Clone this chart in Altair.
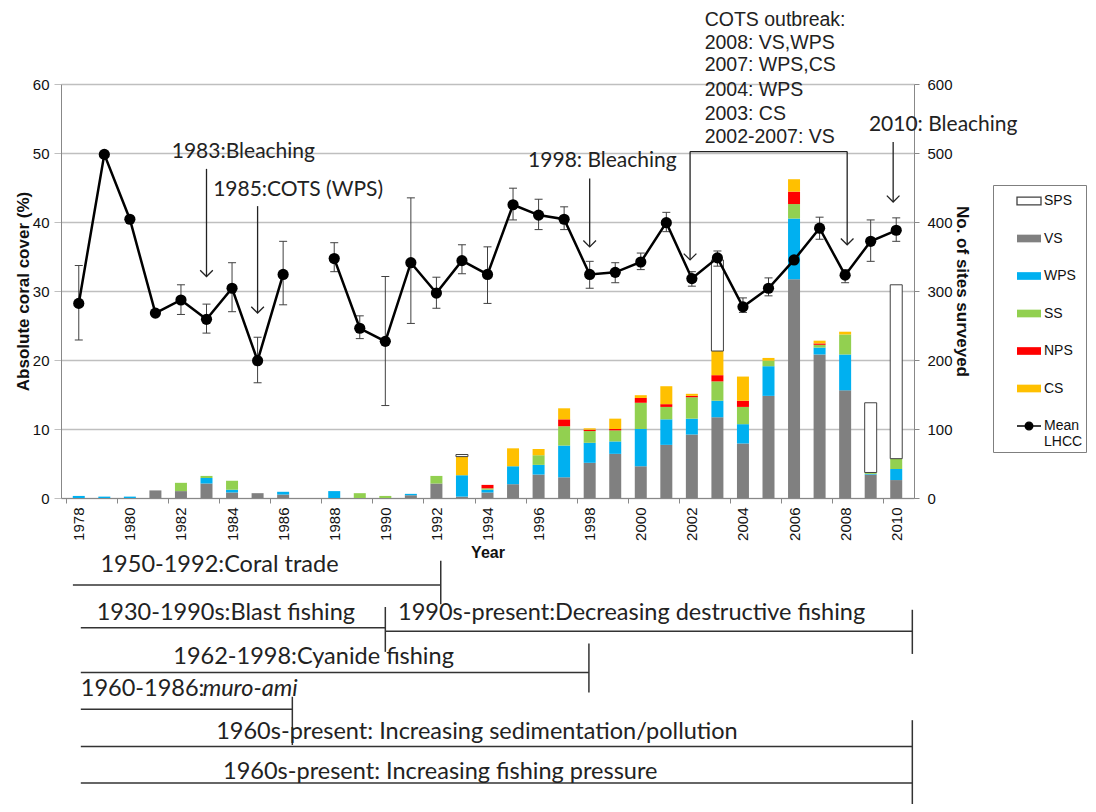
import altair as alt
import pandas as pd

# ---------------- data ----------------
years = list(range(1978, 2011))

# number of sites surveyed per region (stacked bars, right axis)
vs  = [0,0,0,11,10,21,8,7,5,0, 0,0,0,4,21, 2,8,20,34,30, 51,64,46,77,92, 117,79,148,317,208, 156,34,26]
wps = [3,2,2,0,0,8,4,0,4,0, 10,0,0,2,0, 31,4,26,14,46, 29,18,54,37,23, 24,28,43,88,10, 52,1,16]
ss  = [0,0,0,0,12,3,13,0,0,0, 0,7,3,0,11, 0,2,0,14,28, 17,16,38,18,31, 28,25,8,21,4, 29,2,15]
nps = [0,0,0,0,0,0,0,0,0,0, 0,0,0,0,0, 0,5,0,0,10, 2,2,7,4,2, 9,9,0,18,2, 0,0,0]
cs  = [0,0,0,0,0,0,0,0,0,0, 0,0,0,0,0, 27,0,26,9,16, 2,15,4,26,3, 35,35,4,18,4, 4,0,0]
sps = [0,0,0,0,0,0,0,0,0,0, 0,0,0,0,0, 3,0,0,0,0, 0,0,0,0,0, 132,0,0,0,0, 0,101,252]

# mean live hard coral cover (left axis) with error bars
lhcc   = [28.2,49.8,40.4,26.8,28.7,25.9,30.4,19.9,32.4,None, 34.7,24.6,22.7,34.1,29.7,
          34.4,32.4,42.5,41.0,40.4, 32.4,32.7,34.2,39.9,31.8, 34.8,27.7,30.4,34.5,39.1, 32.3,37.2,38.8]
err_lo = [22.9,None,None,None,26.6,23.9,27.0,16.7,28.0,None, 32.8,23.1,13.4,25.3,27.5,
          32.5,28.2,40.3,38.9,38.9, 30.4,31.2,33.1,38.6,30.7, 33.6,26.9,29.3,None,37.5, 31.2,34.3,37.2]
err_hi = [33.7,None,None,None,30.9,28.1,34.1,23.3,37.2,None, 37.0,26.4,32.1,43.5,32.0,
          36.7,36.4,44.9,43.3,42.2, 34.3,34.1,35.5,41.4,32.8, 35.8,29.0,31.9,None,40.7, 33.1,40.3,40.6]

legend_names = ["SPS", "VS", "WPS", "SS", "NPS", "CS", "Mean LHCC"]
legend_fill  = ["#ffffff", "#808080", "#00b0f0", "#92d050", "#ff0000", "#ffc000", "#000000"]
legend_stroke = ["#404040", "transparent", "transparent", "transparent", "transparent", "transparent", "#000000"]
rect_path = "M-1,-0.32L1,-0.32L1,0.32L-1,0.32Z"
linedot_path = "M-1,0L1,0M0.32,0A0.32,0.32,0,1,1,-0.32,0A0.32,0.32,0,1,1,0.32,0Z"
legend_shapes = [rect_path] * 6 + [linedot_path]

# event annotations (year, coral cover units)
ann_text = ["1983:Bleaching", "1985:COTS (WPS)", "1998: Bleaching", "2010: Bleaching"]
ann_x    = [1981.64, 1983.26, 1995.59, 2008.93]
ann_y    = [50.2, 44.6, 48.8, 54.1]

cots_text = ["COTS outbreak:", "2008: VS,WPS", "2007: WPS,CS", "2004: WPS", "2003: CS", "2002-2007: VS"]
cots_x    = [2002.5] * 6
cots_y    = [69.3, 65.9, 62.7, 59.2, 55.7, 52.3]

arr_x   = [1983, 1985, 1998, 2001.93, 2008.08, 2009.88]
arr_top = [47.7, 42.3, 46.3, 50.2, 50.2, 51.6]
arr_tip = [32.1, 26.8, 36.4, 34.5, 36.7, 42.9]

brk_x1, brk_x2, brk_y = [2001.93], [2008.08], [50.2]

# timeline of threats (below the chart)
tl_text  = ["1950-1992:Coral trade", "1930-1990s:Blast fishing",
            "1990s-present:Decreasing destructive fishing", "1962-1998:Cyanide fishing",
            "1960-1986:", "1960s-present: Increasing sedimentation/pollution",
            "1960s-present: Increasing fishing pressure"]
tl_x     = [1978.85, 1978.7, 1990.5, 1981.7, 1978.08, 1983.38, 1983.65]
tl_y     = [-9.7, -16.6, -16.6, -23.0, -27.7, -33.9, -39.7]
tl_it_text, tl_it_x, tl_it_y = ["muro-ami"], [1982.85], [-27.7]

tl_h_x1 = [1977.77, 1978.08, 1990.0, 1978.08, 1978.08, 1978.08, 1978.08]
tl_h_x2 = [1992.17, 1990.0, 2010.63, 1997.97, 1986.36, 2010.63, 2010.63]
tl_h_y  = [-12.6, -18.8, -19.3, -25.3, -30.6, -36.0, -41.3]

tl_v_x  = [1992.17, 1990.0, 2010.63, 1997.97, 1986.36, 2010.63]
tl_v_y1 = [-9.1, -15.8, -16.2, -21.1, -28.8, -32.2]
tl_v_y2 = [-15.4, -22.3, -22.6, -28.2, -35.8, -45.5]

# ---------------- tables ----------------
stack_order = ["VS", "WPS", "SS", "NPS", "CS", "SPS"]
series = {"VS": vs, "WPS": wps, "SS": ss, "NPS": nps, "CS": cs, "SPS": sps}
rows = []
for k, cat in enumerate(stack_order):
    for y, val in zip(years, series[cat]):
        if val > 0:
            rows.append({"year": y, "cat": cat, "sites": val, "ord": k})
bars_df = pd.DataFrame(rows)

line_df = pd.DataFrame({"year": years, "v": lhcc})
line_df = line_df.dropna()
line_df["seg"] = ["a" if y < 1987 else "b" for y in line_df["year"]]
line_df["cat"] = "Mean LHCC"

err_df = pd.DataFrame({"year": years, "lo": err_lo, "hi": err_hi}).dropna()
caps_df = pd.concat([err_df[["year", "lo"]].rename(columns={"lo": "v"}),
                     err_df[["year", "hi"]].rename(columns={"hi": "v"})])

ann_df = pd.DataFrame({"x": ann_x, "y": ann_y, "t": ann_text})
cots_df = pd.DataFrame({"x": cots_x, "y": cots_y, "t": cots_text})
arr_df = pd.DataFrame({"x": arr_x, "top": arr_top, "tip": arr_tip})
brk_df = pd.DataFrame({"x1": brk_x1, "x2": brk_x2, "y": brk_y})
tl_df = pd.DataFrame({"x": tl_x, "y": tl_y, "t": tl_text})
tl_it_df = pd.DataFrame({"x": tl_it_x, "y": tl_it_y, "t": tl_it_text})
tl_h_df = pd.DataFrame({"x1": tl_h_x1, "x2": tl_h_x2, "y": tl_h_y})
tl_v_df = pd.DataFrame({"x": tl_v_x, "y1": tl_v_y1, "y2": tl_v_y2})

# ---------------- scales / axes ----------------
W, H = 853, 414
half_band = W / 33 / 2
xscale = alt.Scale(domain=[1977.5, 2010.5], nice=False, zero=False)
xaxis = alt.Axis(values=list(range(1978, 2011, 2)), format="d", labelAngle=-90,
                 tickOffset=-half_band, labelOffset=half_band, tickSize=5,
                 tickColor="#888888", domainColor="#888888", grid=False,
                 labelFont="Liberation Sans", labelFontSize=15, labelColor="#111111",
                 labelPadding=4, labelOverlap=False, titleFont="Liberation Sans",
                 titleFontSize=16, titleFontWeight="bold", titleColor="#111111", titlePadding=4)

yl_scale = alt.Scale(domain=[0, 60], nice=False, zero=False)
yl_axis = alt.Axis(orient="left", values=list(range(0, 61, 10)), grid=True,
                   gridColor="#bfbfbf", gridWidth=1.3, domainColor="#888888",
                   tickColor="#bfbfbf", tickSize=7, labelFont="Liberation Sans",
                   labelFontSize=15, labelColor="#111111", labelPadding=5,
                   titleFont="Liberation Sans", titleFontSize=17, titleFontWeight="bold",
                   titleColor="#111111", titlePadding=0)

yr_axis = alt.Axis(orient="right", values=list(range(0, 601, 100)), grid=False,
                   domainColor="#888888", tickColor="#888888", tickSize=5,
                   labelFont="Liberation Sans", labelFontSize=15, labelColor="#111111",
                   labelPadding=8, titleFont="Liberation Sans", titleFontSize=17,
                   titleFontWeight="bold", titleColor="#111111", titlePadding=0)


def X(field="year"):
    return alt.X(f"{field}:Q", scale=xscale, axis=xaxis, title="Year")


def YL(field):
    return alt.Y(f"{field}:Q", scale=yl_scale, axis=yl_axis, title="Absolute coral cover (%)")


leg = alt.Legend(title=None, orient="none", legendX=932, legendY=101, direction="vertical",
                 strokeColor="#7f7f7f", fillColor="white", padding=3, symbolOffset=20,
                 symbolSize=576, symbolStrokeWidth=1.3, rowPadding=17.5,
                 labelFont="Liberation Sans", labelFontSize=14, labelColor="#111111",
                 labelOffset=2,
                 labelExpr="datum.label == 'Mean LHCC' ? ['Mean', 'LHCC    '] : datum.label")

color_scale = alt.Scale(domain=legend_names, range=legend_fill)
stroke_scale = alt.Scale(domain=legend_names, range=legend_stroke)
shape_scale = alt.Scale(domain=legend_names, range=legend_shapes)

# ---------------- layers ----------------
bars = alt.Chart(bars_df).mark_bar(size=12, strokeWidth=1).encode(
    x=X(),
    y=alt.Y("sites:Q", stack="zero", scale=alt.Scale(domain=[0, 600], nice=False),
            axis=yr_axis, title="No. of sites surveyed"),
    color=alt.Color("cat:N", scale=color_scale, legend=leg),
    stroke=alt.Stroke("cat:N", scale=stroke_scale, legend=leg),
    order=alt.Order("ord:Q"),
)

err_rules = alt.Chart(err_df).mark_rule(color="#404040", strokeWidth=1).encode(
    x=X(), y=YL("lo"), y2=alt.Y2("hi"))
caps = alt.Chart(caps_df).mark_tick(orient="horizontal", size=8, thickness=1, color="#404040",
                                    opacity=1).encode(
    x=X(), y=YL("v"))
line = alt.Chart(line_df).mark_line(color="black", strokeWidth=2.5).encode(
    x=X(), y=YL("v"), detail="seg:N")
points = alt.Chart(line_df).mark_circle(color="black", size=125, opacity=1).encode(
    x=X(), y=YL("v"))
legend_layer = alt.Chart(line_df).transform_filter("false").mark_point(
    filled=True, opacity=1).encode(
    x=X(), y=YL("v"),
    color=alt.Color("cat:N", scale=color_scale, legend=leg),
    shape=alt.Shape("cat:N", scale=shape_scale, legend=leg))

arrows = alt.Chart(arr_df).mark_rule(color="#222222", strokeWidth=1.3).encode(
    x=X("x"), y=YL("top"), y2=alt.Y2("tip"))
heads = alt.Chart(arr_df).mark_point(shape="M-1,-1L0,0L1,-1", size=160, filled=False,
                                     strokeWidth=1.3, color="#222222", opacity=1).encode(
    x=X("x"), y=YL("tip"))
bracket = alt.Chart(brk_df).mark_rule(color="#222222", strokeWidth=1.3).encode(
    x=X("x1"), x2=alt.X2("x2"), y=YL("y"))
ann = alt.Chart(ann_df).mark_text(align="left", baseline="middle", font="Lato",
                                  fontSize=21, color="#222222").encode(
    x=X("x"), y=YL("y"), text="t:N")
cots = alt.Chart(cots_df).mark_text(align="left", baseline="middle", font="Liberation Sans",
                                    fontSize=19.5, color="#222222").encode(
    x=X("x"), y=YL("y"), text="t:N")

tl_h = alt.Chart(tl_h_df).mark_rule(color="#333333", strokeWidth=1.5).encode(
    x=X("x1"), x2=alt.X2("x2"), y=YL("y"))
tl_v = alt.Chart(tl_v_df).mark_rule(color="#333333", strokeWidth=1.5).encode(
    x=X("x"), y=YL("y1"), y2=alt.Y2("y2"))
tl_t = alt.Chart(tl_df).mark_text(align="left", baseline="middle", font="Lato",
                                  fontSize=23.5, color="#222222").encode(
    x=X("x"), y=YL("y"), text="t:N")
tl_it = alt.Chart(tl_it_df).mark_text(align="left", baseline="middle", font="Lato",
                                      fontSize=23.5, fontStyle="italic", color="#222222").encode(
    x=X("x"), y=YL("y"), text="t:N")

left = alt.layer(err_rules, caps, line, points, legend_layer, arrows, heads, bracket,
                 ann, cots, tl_h, tl_v, tl_t, tl_it)

chart = alt.layer(bars, left).resolve_scale(y="independent").properties(
    width=W, height=H,
    autosize=alt.AutoSizeParams(type="none"),
    padding={"left": 53, "top": 76, "right": 174, "bottom": 306},
).configure_view(strokeWidth=0)

chart.save("out.html", embed_options={"renderer": "svg", "actions": False})
